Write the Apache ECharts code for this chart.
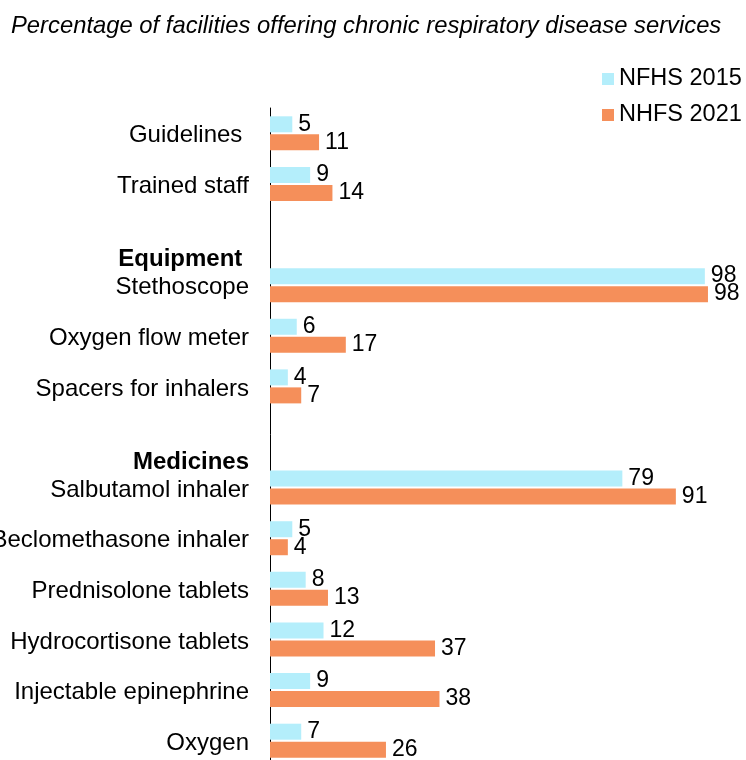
<!DOCTYPE html>
<html>
<head>
<meta charset="utf-8">
<script src="https://cdn.jsdelivr.net/npm/echarts@6/dist/echarts.min.js"></script>
<style>
html,body{margin:0;padding:0;background:#fff;}
#main{width:746px;height:760px;}
</style>
</head>
<body>
<div id="main"></div>
<script>
const titleText = 'Percentage of facilities offering chronic respiratory disease services';
const categories = ['Guidelines ', 'Trained staff', '', 'Stethoscope', 'Oxygen flow meter', 'Spacers for inhalers', '', 'Salbutamol inhaler', 'Beclomethasone inhaler', 'Prednisolone tablets', 'Hydrocortisone tablets', 'Injectable epinephrine', 'Oxygen'];
const groupHeaders = ['', '', '', 'Equipment ', '', '', '', 'Medicines', '', '', '', '', ''];
const seriesNames = ['NFHS 2015', 'NHFS 2021'];
const values2015 = [5, 9, null, 97.5, 6, 4, null, 79, 5, 8, 12, 9, 7];
const values2021 = [11, 14, null, 98.2, 17, 7, null, 91, 4, 13, 37, 38, 26];
const colors = ['#B4EEFB', '#F58F5A'];

const FONT = '"Liberation Sans", Arial, sans-serif';
const chart = echarts.init(document.getElementById('main'), null, {renderer: 'canvas'});

function makeSeries(name, data, color) {
  return {
    name: name,
    type: 'bar',
    data: data,
    barWidth: 16,
    barGap: '12.5%',
    itemStyle: {color: color},
    label: {
      show: true,
      position: 'right',
      distance: 6,
      color: '#000',
      fontFamily: FONT,
      fontSize: 23,
      formatter: p => (p.value == null ? '' : String(Math.round(p.value)))
    },
    emphasis: {disabled: true},
    animation: false
  };
}

chart.setOption({
  animation: false,
  backgroundColor: '#ffffff',
  title: {
    text: titleText,
    left: 6,
    top: 9,
    textStyle: {fontFamily: FONT, fontStyle: 'italic', fontWeight: 'normal', fontSize: 23.8, color: '#000'}
  },
  legend: {
    orient: 'vertical',
    left: 597,
    top: 62,
    itemWidth: 12,
    itemHeight: 12,
    itemGap: 12,
    icon: 'rect',
    data: seriesNames,
    textStyle: {fontFamily: FONT, fontSize: 23.5, color: '#000', lineHeight: 24}
  },
  grid: {left: 270, right: 30, top: 108, bottom: -6, containLabel: false, outerBoundsMode: 'none'},
  xAxis: {
    type: 'value',
    min: 0,
    max: 100,
    show: false
  },
  yAxis: {
    type: 'category',
    data: categories,
    inverse: true,
    axisLine: {show: true, lineStyle: {color: '#000', width: 1}},
    axisTick: {show: false},
    axisLabel: {
      margin: 21,
      interval: 0,
      fontFamily: FONT,
      fontSize: 24,
      color: '#000',
      padding: [5, 0, 0, 0],
      formatter: function (value, index) {
        const h = groupHeaders[index];
        if (h) {
          return '{h|' + h + '}\n{c|' + value + '}\n{c| }';
        }
        return '{c|' + value + '}';
      },
      rich: {
        h: {fontFamily: FONT, fontSize: 24, fontWeight: 'bold', color: '#000', lineHeight: 28, align: 'right'},
        c: {fontFamily: FONT, fontSize: 24, color: '#000', lineHeight: 28, align: 'right'}
      }
    }
  },
  series: [
    makeSeries(seriesNames[0], values2015, colors[0]),
    makeSeries(seriesNames[1], values2021, colors[1])
  ]
});
</script>
</body>
</html>
